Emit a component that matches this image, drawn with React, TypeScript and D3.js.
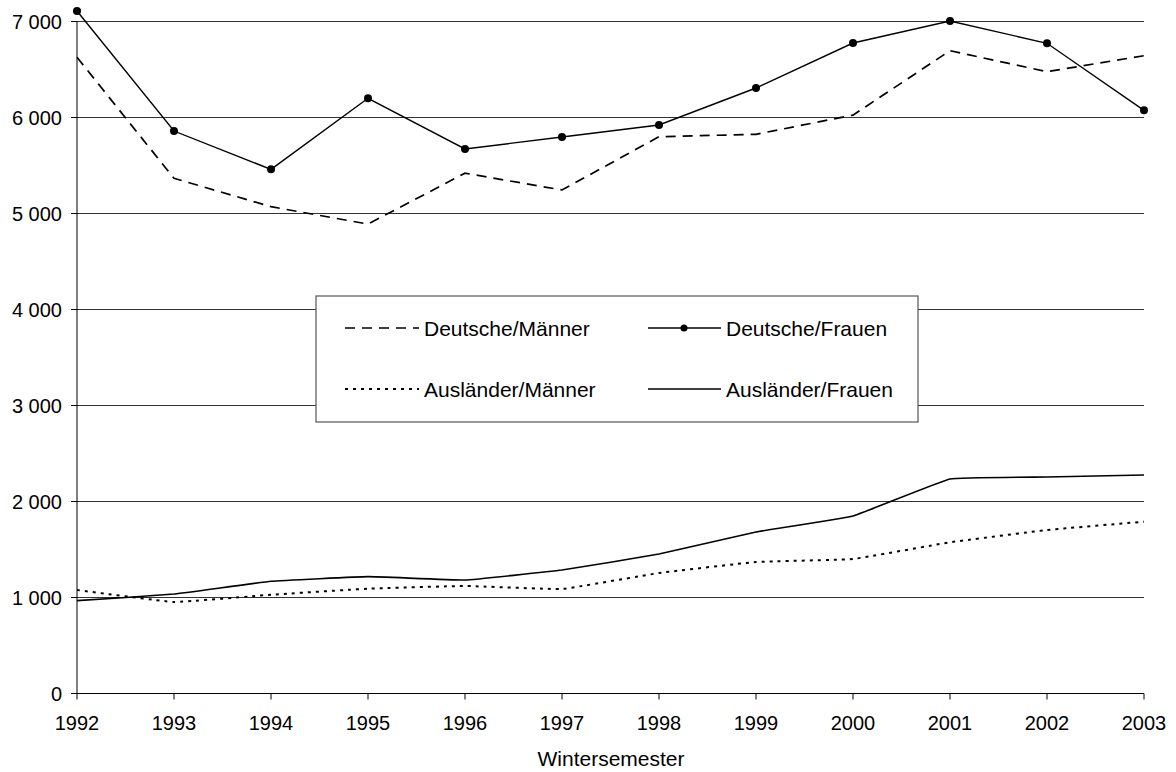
import React from "react";
import * as d3 from "d3";

const years = [1992, 1993, 1994, 1995, 1996, 1997, 1998, 1999, 2000, 2001, 2002, 2003];
const deutscheMaenner = [6627, 5367, 5071, 4890, 5420, 5245, 5800, 5825, 6025, 6696, 6477, 6644];
const deutscheFrauen = [7109, 5859, 5460, 6200, 5672, 5797, 5922, 6307, 6776, 7005, 6773, 6075];
const auslaenderMaenner = [1078, 953, 1029, 1092, 1120, 1089, 1255, 1370, 1401, 1575, 1703, 1790];
const auslaenderFrauen = [967, 1036, 1169, 1217, 1182, 1286, 1453, 1682, 1849, 2234, 2255, 2276];
const yTicks = [0, 1000, 2000, 3000, 4000, 5000, 6000, 7000];
const legendLabels = ["Deutsche/Männer", "Deutsche/Frauen", "Ausländer/Männer", "Ausländer/Frauen"];
const axisTitle = "Wintersemester";

const W = 1176, H = 772;
const left = 77, right = 1144, top = 21.5, bottom = 693.5;
const font = "'Liberation Sans', Arial, sans-serif";
const fs = 20;

export default function App() {
  const x = d3.scaleLinear().domain([1992, 2003]).range([left, right]);
  const y = d3.scaleLinear().domain([0, 7000]).range([bottom, top]);
  const fmt = (v: number) => (v >= 1000 ? `${Math.floor(v / 1000)} ${String(v % 1000).padStart(3, "0")}` : String(v));

  const straight = d3.line<number>().x((_, i) => x(years[i])).y((d) => y(d));
  const soft = d3.line<number>().x((_, i) => x(years[i])).y((d) => y(d)).curve(d3.curveCardinal.tension(0.75));

  const dashM = "10,7";
  const dotM = "3,5";

  return (
    <svg width={W} height={H} style={{ position: "absolute", left: 0, top: 0, background: "#fff" }} fontFamily={font}>
      {yTicks.filter((t) => t > 0).map((t) => (
        <line key={t} x1={left} x2={right} y1={y(t)} y2={y(t)} stroke="#333" strokeWidth={1} />
      ))}
      <line x1={left} x2={left} y1={top} y2={bottom} stroke="#000" />
      <line x1={left} x2={right} y1={bottom} y2={bottom} stroke="#000" />
      {yTicks.map((t) => (
        <g key={t}>
          <line x1={left - 6} x2={left} y1={y(t)} y2={y(t)} stroke="#000" />
          <text x={62} y={y(t)} dy="0.36em" textAnchor="end" fontSize={fs}>{fmt(t)}</text>
        </g>
      ))}
      {years.map((yr) => (
        <g key={yr}>
          <line x1={x(yr)} x2={x(yr)} y1={bottom} y2={bottom + 6} stroke="#000" />
          <text x={x(yr)} y={730} textAnchor="middle" fontSize={fs}>{yr}</text>
        </g>
      ))}
      <text x={611} y={766} textAnchor="middle" fontSize={21}>{axisTitle}</text>

      <path d={soft(auslaenderFrauen) || ""} fill="none" stroke="#000" strokeWidth={1.6} />
      <path d={soft(auslaenderMaenner) || ""} fill="none" stroke="#000" strokeWidth={2} strokeDasharray={dotM} />
      <path d={straight(deutscheMaenner) || ""} fill="none" stroke="#000" strokeWidth={1.7} strokeDasharray={dashM} />
      <path d={straight(deutscheFrauen) || ""} fill="none" stroke="#000" strokeWidth={1.4} />
      {deutscheFrauen.map((v, i) => (
        <circle key={i} cx={x(years[i])} cy={y(v)} r={4} fill="#000" />
      ))}

      <rect x={316} y={296} width={602} height={126} fill="#fff" stroke="#555" strokeWidth={1.2} />
      <line x1={345} x2={419} y1={328} y2={328} stroke="#000" strokeWidth={1.7} strokeDasharray={dashM} />
      <text x={424} y={328} dy="0.36em" fontSize={21}>{legendLabels[0]}</text>
      <line x1={345} x2={419} y1={389} y2={389} stroke="#000" strokeWidth={2} strokeDasharray={dotM} />
      <text x={424} y={389} dy="0.36em" fontSize={21}>{legendLabels[2]}</text>
      <line x1={648} x2={721} y1={328} y2={328} stroke="#000" strokeWidth={1.4} />
      <circle cx={684} cy={328} r={3.5} fill="#000" />
      <text x={726} y={328} dy="0.36em" fontSize={21}>{legendLabels[1]}</text>
      <line x1={648} x2={721} y1={389} y2={389} stroke="#000" strokeWidth={1.4} />
      <text x={726} y={389} dy="0.36em" fontSize={21}>{legendLabels[3]}</text>
    </svg>
  );
}
